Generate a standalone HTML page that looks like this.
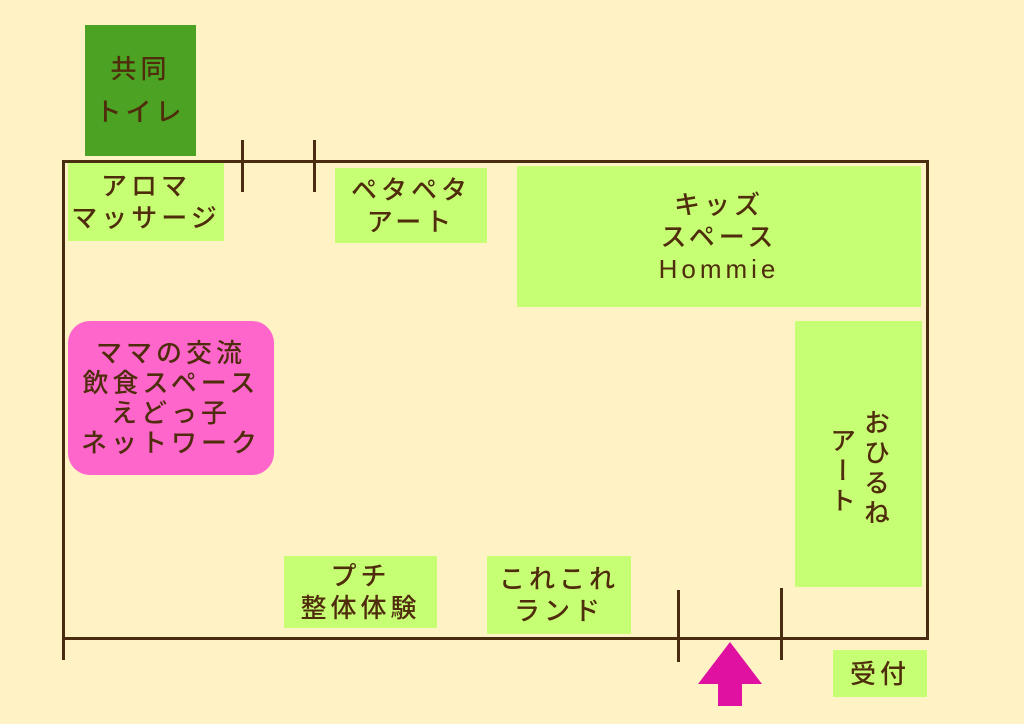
<!DOCTYPE html>
<html><head><meta charset="utf-8"><style>
body{margin:0;width:1024px;height:724px;background:#FFF2C4;position:relative;overflow:hidden;font-family:"Liberation Sans","Noto Sans CJK JP",sans-serif;color:#4F2D0C}
.b{position:absolute;background:#C6FF73;display:flex;flex-direction:column;align-items:center;justify-content:center;font-size:26px;line-height:32px;letter-spacing:4px;text-align:center;font-weight:500}
.l{position:absolute;background:#4A2C10}
</style></head><body>
<div class="b" style="left:85px;top:25px;width:111px;height:131px;background:#4BA223;line-height:43px">共同<br>トイレ</div>
<div class="l" style="left:62px;top:160px;width:867px;height:3px"></div>
<div class="l" style="left:62px;top:160px;width:3px;height:480px"></div>
<div class="l" style="left:926px;top:160px;width:3px;height:480px"></div>
<div class="l" style="left:62px;top:637px;width:867px;height:3px"></div>
<div class="l" style="left:62px;top:562px;width:3px;height:98px"></div>
<div class="l" style="left:241px;top:140px;width:3px;height:52px"></div>
<div class="l" style="left:313px;top:140px;width:3px;height:52px"></div>
<div class="l" style="left:677px;top:590px;width:3px;height:72px"></div>
<div class="l" style="left:780px;top:588px;width:3px;height:72px"></div>
<div class="b" style="left:68px;top:163px;width:156px;height:78px">アロマ<br>マッサージ</div>
<div class="b" style="left:335px;top:168px;width:152px;height:75px">ペタペタ<br>アート</div>
<div class="b" style="left:517px;top:166px;width:404px;height:141px;line-height:32px">キッズ<br>スペース<br>Hommie</div>
<div class="b" style="left:795px;top:321px;width:127px;height:266px;flex-direction:row;align-items:flex-start;padding-top:88px;box-sizing:border-box;gap:4px;line-height:30px;letter-spacing:4px"><span style="writing-mode:vertical-rl;margin-top:18px">アート</span><span style="writing-mode:vertical-rl;margin-top:0px">おひるね</span></div>
<div class="b" style="left:68px;top:321px;width:206px;height:154px;background:#FF66CC;border-radius:22px;line-height:30px">ママの交流<br>飲食スペース<br>えどっ子<br>ネットワーク</div>
<div class="b" style="left:284px;top:556px;width:153px;height:72px">プチ<br>整体体験</div>
<div class="b" style="left:487px;top:556px;width:144px;height:78px">これこれ<br>ランド</div>
<div class="b" style="left:833px;top:650px;width:94px;height:47px">受付</div>
<svg style="position:absolute;left:698px;top:642px" width="64" height="64"><polygon points="32,0 64,42 44,42 44,64 20,64 20,42 0,42" fill="#E010A0"/></svg>
</body></html>
